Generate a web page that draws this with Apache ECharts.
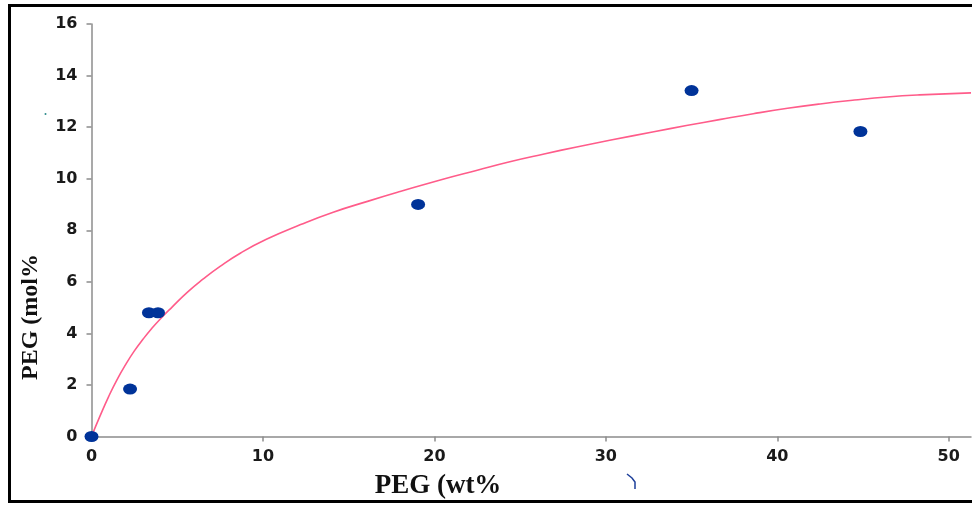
<!DOCTYPE html>
<html>
<head>
<meta charset="utf-8">
<style>html,body{margin:0;padding:0;background:#fff;}#chart{width:972px;height:506px;}</style>
<script src="https://cdn.jsdelivr.net/npm/echarts@6/dist/echarts.min.js"></script>
</head>
<body>
<div id="chart"></div>
<script>
// Measured data points
const pegWt = [0, 2.25, 3.35, 3.88, 19.05, 35.0, 44.85];
const pegMol = [0, 1.84, 4.8, 4.8, 9.0, 13.42, 11.83];
// Fitted trend curve
const curveX = [0, 0.5, 1.0, 1.5, 2.0, 2.5, 3.0, 3.5, 4.0, 4.7, 5.6, 6.5, 7.5, 8.7, 10.2, 12.2, 14.1, 16.1, 18.0, 20.5, 22.5, 24.4, 26.4, 28.3, 30.3, 32.8, 34.7, 36.7, 38.6, 40.6, 42.5, 44.5, 46.4, 48.3, 51.3];
const curveY = [0, 0.8, 1.55, 2.22, 2.8, 3.32, 3.77, 4.18, 4.55, 5.02, 5.6, 6.1, 6.6, 7.12, 7.65, 8.22, 8.7, 9.12, 9.5, 9.98, 10.33, 10.66, 10.96, 11.23, 11.5, 11.82, 12.06, 12.3, 12.52, 12.73, 12.9, 13.05, 13.17, 13.25, 13.33];
const xTicks = [0, 10, 20, 30, 40, 50];
const xName = 'PEG (wt%';
const yName = 'PEG (mol%';

const chart = echarts.init(document.getElementById('chart'), null, {renderer: 'canvas'});
const labelStyle = {fontFamily: 'DejaVu Sans', fontSize: 16, fontWeight: 'bold', color: '#1a1a1a'};
const axisLineStyle = {color: '#8c8c8c', width: 1.5};
chart.setOption({
  animation: false,
  grid: {left: 91.5, top: 24, right: 1, bottom: 69.5, containLabel: false},
  xAxis: {
    type: 'value', min: 0, max: 51.3,
    axisLine: {show: true, onZero: false, lineStyle: axisLineStyle},
    axisTick: {show: true, length: 5, lineStyle: axisLineStyle, customValues: xTicks},
    axisLabel: Object.assign({margin: 12, customValues: xTicks}, labelStyle),
    splitLine: {show: false}
  },
  yAxis: {
    type: 'value', min: 0, max: 16, interval: 2,
    axisLine: {show: true, onZero: false, lineStyle: axisLineStyle},
    axisTick: {show: true, length: 5, lineStyle: axisLineStyle},
    axisLabel: Object.assign({margin: 14}, labelStyle),
    splitLine: {show: false}
  },
  series: [
    {
      type: 'line', data: curveX.map((x, i) => [x, curveY[i]]),
      smooth: 0.5, showSymbol: false, symbol: 'none',
      lineStyle: {color: '#ff5c8a', width: 1.6}, z: 2
    },
    {
      type: 'scatter', data: pegWt.map((x, i) => [x, pegMol[i]]),
      symbol: 'circle', symbolSize: [14, 11],
      itemStyle: {color: '#003399', opacity: 1}, z: 3
    }
  ],
  graphic: [
    {type: 'rect', shape: {x: 9.5, y: 5.5, width: 990, height: 496}, style: {fill: null, stroke: '#000', lineWidth: 3}, silent: true},
    {type: 'text', x: 438, y: 486, style: {text: xName, font: 'bold 27px "Liberation Serif"', fill: '#111', textAlign: 'center', textVerticalAlign: 'middle'}},
    {type: 'text', x: 31, y: 317, rotation: Math.PI / 2, style: {text: yName, font: 'bold 24px "Liberation Serif"', fill: '#111', textAlign: 'center', textVerticalAlign: 'middle'}},
    {type: 'circle', shape: {cx: 45.5, cy: 114, r: 1}, style: {fill: '#2a8a8a'}},
    {type: 'polyline', shape: {points: [[627, 474], [632, 478], [635, 482], [635, 489]]}, style: {stroke: '#1d3f9a', lineWidth: 1.5, fill: null}}
  ]
});
</script>
</body>
</html>
